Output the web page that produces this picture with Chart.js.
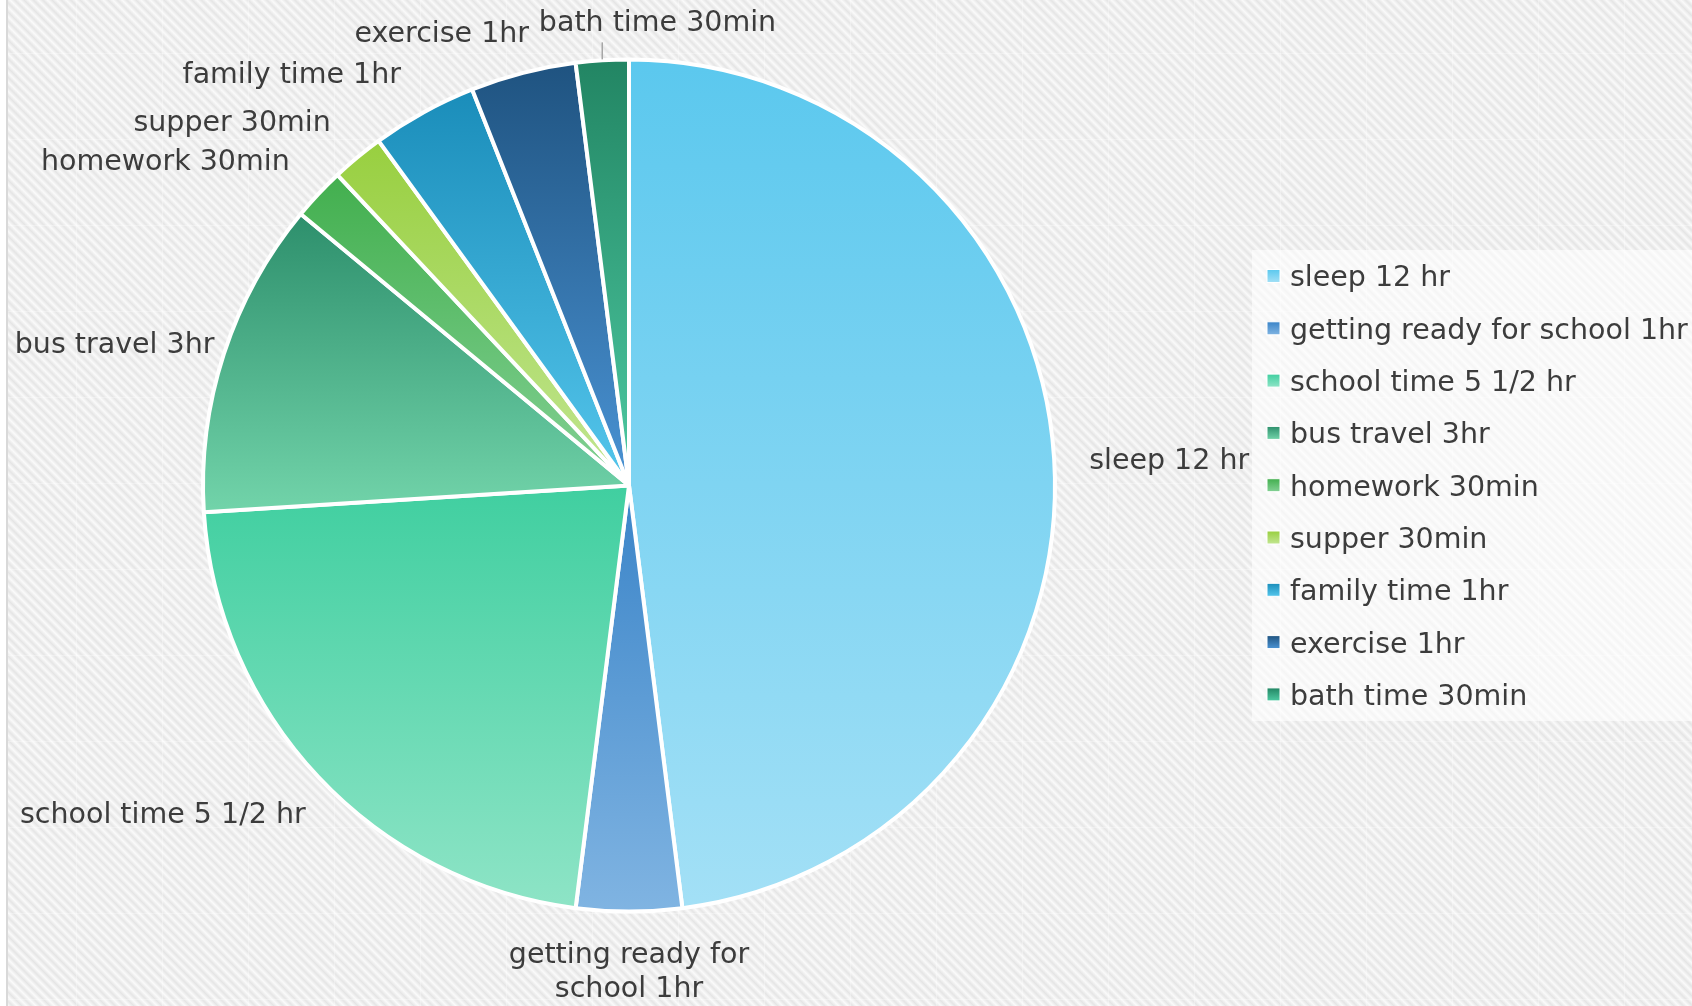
<!DOCTYPE html>
<html lang="en">
<head>
<meta charset="UTF-8">
<title>A school day</title>
<script src="https://cdn.jsdelivr.net/npm/chart.js"></script>
<style>
  html, body { margin: 0; padding: 0; background: #fff; overflow: hidden; }
  .frame { position: absolute; left: 6px; top: 0; width: 1686px; height: 1006px; border-left: 2px solid #d9d9d9;
           background:
             linear-gradient(90deg, rgba(255,255,255,0.3) 0 1.5px, transparent 1.5px) 68px 0 / 86px 86px,
             linear-gradient(180deg, rgba(255,255,255,0.3) 0 1.5px, transparent 1.5px) 0 53px / 86px 86px,
             repeating-linear-gradient(45deg, #fafafa 0, #e5e5e5 3.3px, #fafafa 6.6px); }
  #chart { position: absolute; left: 0; top: 0; }
</style>
</head>
<body>
<div class="frame"></div>
<canvas id="chart" width="1692" height="1006"></canvas>
<script>
const categories = ['sleep 12 hr', 'getting ready for school 1hr', 'school time 5 1/2 hr', 'bus travel 3hr',
                    'homework 30min', 'supper 30min', 'family time 1hr', 'exercise 1hr', 'bath time 30min'];
const hours = [12, 1, 5.5, 3, 0.5, 0.5, 1, 1, 0.5];

const topColors    = ['#5bc8ee', '#3a84c8', '#40cfa0', '#2d8f6c', '#42af4e', '#98cf3f', '#1a8dba', '#1f5380', '#228563'];
const bottomColors = ['#a3e0f6', '#80b4e2', '#8ee4c6', '#72d4aa', '#84d195', '#c2e692', '#55c6ec', '#4a93d4', '#4ecaa2'];

// manual label nudges (Excel moved these around), relative to the outside-end anchor
const labelNudge = [[23, 4], [0, 32], [-4, 30], [2, -5], [-20, -23], [-19, -24], [-17, -26], [9, -27], [56, -25]];

const FONT = '28.5px "DejaVu Sans"';
const TEXT = '#3c3c3c';

function sliceGradient(ctx, arc, i) {
    const {x, y, startAngle: s, endAngle: e, outerRadius: r} = arc;
    const ys = [y, y + r * Math.sin(s), y + r * Math.sin(e)];
    if (s <= Math.PI / 2 && e >= Math.PI / 2) ys.push(y + r);
    if ((s <= -Math.PI / 2 && e >= -Math.PI / 2) || (s <= 1.5 * Math.PI && e >= 1.5 * Math.PI)) ys.push(y - r);
    const g = ctx.createLinearGradient(0, Math.min(...ys), 0, Math.max(...ys));
    g.addColorStop(0, topColors[i]);
    g.addColorStop(1, bottomColors[i]);
    return g;
}

function wrap(ctx, text, maxW) {
    if (ctx.measureText(text).width < 350) return [text];
    const lines = [];
    let cur = '';
    text.split(' ').forEach(w => {
        const t = cur ? cur + ' ' + w : w;
        if (ctx.measureText(t).width > maxW && cur) { lines.push(cur); cur = w; }
        else cur = t;
    });
    lines.push(cur);
    return lines;
}

const sliceLabels = {
    id: 'sliceLabels',
    afterDatasetsDraw(chart) {
        const ctx = chart.ctx;
        const meta = chart.getDatasetMeta(0);
        ctx.save();
        ctx.font = FONT;
        ctx.fillStyle = TEXT;
        ctx.textBaseline = 'middle';
        meta.data.forEach((arc, i) => {
            const mid = (arc.startAngle + arc.endAngle) / 2;
            const r = arc.outerRadius + 12;
            const px = arc.x + r * Math.cos(mid);
            const py = arc.y + r * Math.sin(mid);
            const dx = Math.cos(mid);
            ctx.textAlign = dx > 0.15 ? 'left' : dx < -0.15 ? 'right' : 'center';
            const lx = px + labelNudge[i][0];
            const ly = py + labelNudge[i][1];
            const lines = wrap(ctx, categories[i], 255);
            lines.forEach((ln, k) => ctx.fillText(ln, lx, ly + k * 34));
            if (Math.abs(labelNudge[i][0]) > 40) {
                const ex = arc.x + arc.outerRadius * Math.cos(mid);
                const ey = arc.y + arc.outerRadius * Math.sin(mid);
                ctx.strokeStyle = '#a6a6a6';
                ctx.lineWidth = 1.5;
                ctx.beginPath();
                ctx.moveTo(ex, ey - 1);
                ctx.lineTo(ex, ly + 19);
                ctx.stroke();
            }
        });
        ctx.restore();
    }
};

const sideLegend = {
    id: 'sideLegend',
    afterDraw(chart) {
        const ctx = chart.ctx;
        ctx.save();
        ctx.fillStyle = 'rgba(255,255,255,0.6)';
        ctx.fillRect(1252, 250, 440, 471);
        ctx.font = FONT;
        ctx.textBaseline = 'middle';
        ctx.textAlign = 'left';
        categories.forEach((c, i) => {
            const cy = 276 + i * 52.3;
            const g = ctx.createLinearGradient(0, cy - 6.5, 0, cy + 6.5);
            g.addColorStop(0, topColors[i]);
            g.addColorStop(1, bottomColors[i]);
            ctx.fillStyle = g;
            ctx.fillRect(1267, cy - 6.5, 13, 13);
            ctx.strokeStyle = '#fff';
            ctx.lineWidth = 1;
            ctx.strokeRect(1267, cy - 6.5, 13, 13);
            ctx.fillStyle = TEXT;
            ctx.fillText(c, 1290, cy + 3);
        });
        ctx.restore();
    }
};

const chart = new Chart(document.getElementById('chart'), {
    type: 'pie',
    data: {
        labels: categories,
        datasets: [{
            data: hours,
            backgroundColor: (c) => {
                const el = c.element;
                if (el && el.outerRadius > 0) return sliceGradient(c.chart.ctx, el, c.dataIndex);
                return topColors[c.dataIndex];
            },
            borderColor: '#ffffff',
            borderWidth: 4
        }]
    },
    options: {
        responsive: false,
        animation: false,
        radius: 426,
        layout: { padding: { left: 202, right: 636, top: 59, bottom: 94 } },
        plugins: { legend: { display: false }, tooltip: { enabled: false } }
    },
    plugins: [sliceLabels, sideLegend]
});
chart.update('none');
</script>
</body>
</html>
